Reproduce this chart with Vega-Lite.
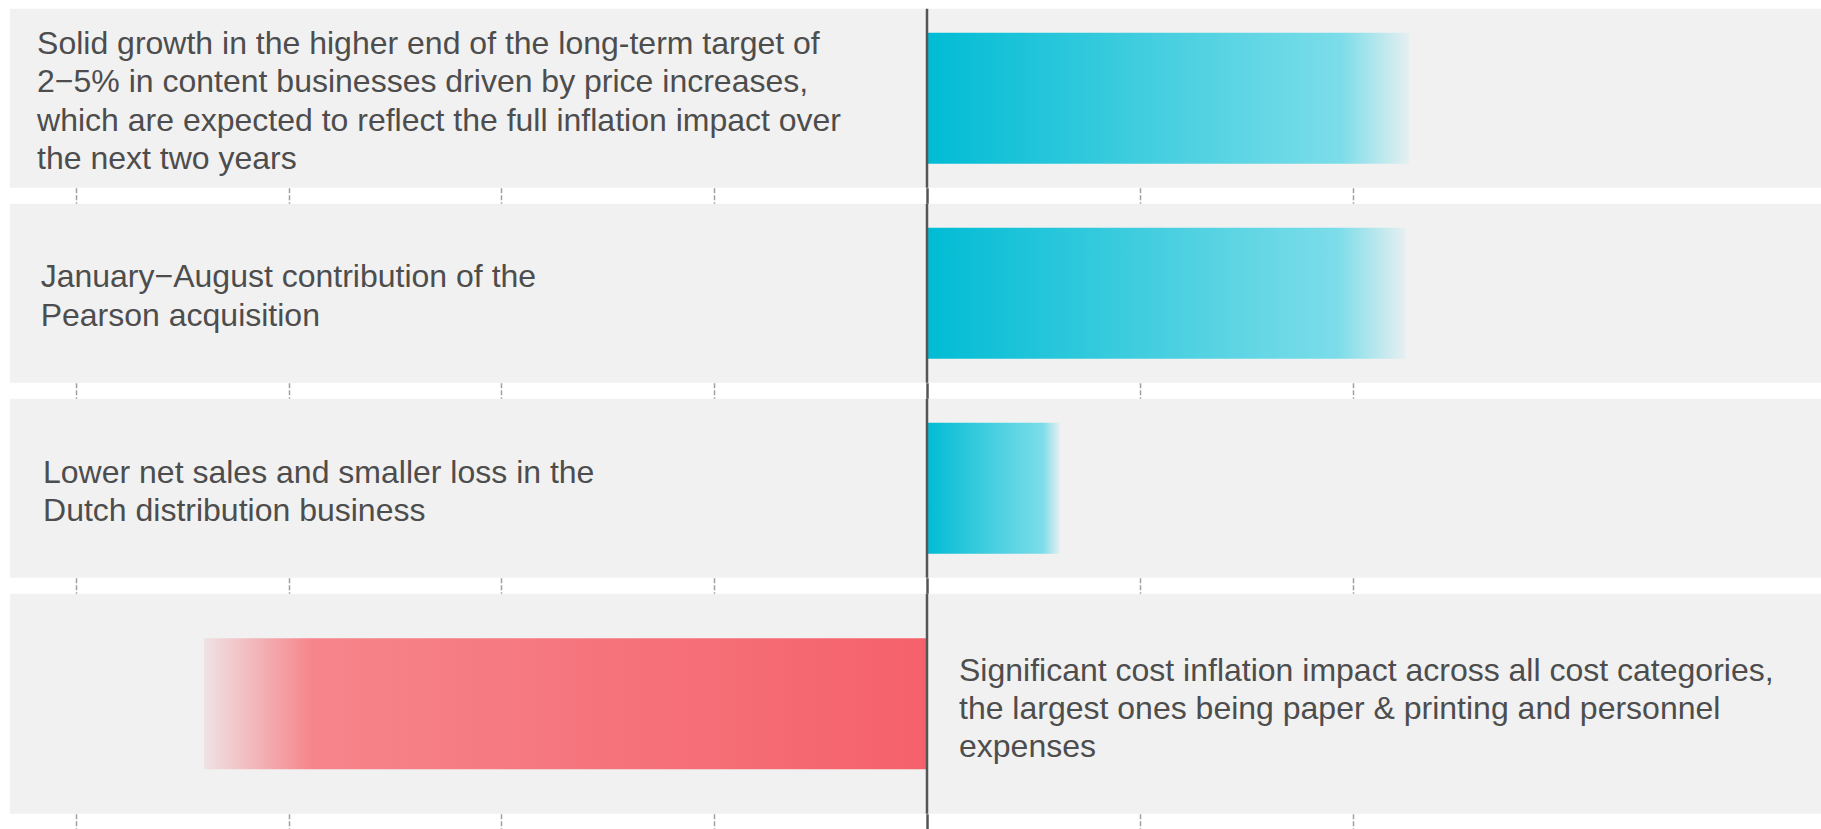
{
  "$schema": "https://vega.github.io/schema/vega-lite/v6.json",
  "background": "white",
  "padding": {"left": 10, "top": 6.75, "right": 0, "bottom": 0},
  "config": {
    "view": {"fill": "#f1f1f1", "stroke": null},
    "text": {"font": "Liberation Sans", "fontSize": 32, "lineHeight": 38.4, "color": "#4d4d4d", "align": "left", "baseline": "middle", "lineBreak": "\n"},
    "rule": {"color": "#555555", "strokeWidth": 2.5}
  },
  "data": {
    "values": [
      {"row": 1, "label": "Solid growth in the higher end of the long-term target of\n2−5% in content businesses driven by price increases,\nwhich are expected to reflect the full inflation impact over\nthe next two years", "value": 2.266},
      {"row": 2, "label": "January−August contribution of the\nPearson acquisition", "value": 2.248},
      {"row": 3, "label": "Lower net sales and smaller loss in the\nDutch distribution business", "value": 0.625},
      {"row": 4, "label": "Significant cost inflation impact across all cost categories,\nthe largest ones being paper & printing and personnel\nexpenses", "value": -3.398}
    ]
  },
  "spacing": 16,
  "bounds": "flush",
  "vconcat": [
    {
      "width": 1811, "height": 179,
      "transform": [{"filter": "datum.row === 1"}],
      "layer": [
        {"mark": {"type": "bar", "size": 131, "color": {"gradient": "linear", "x1": 0, "y1": 0, "x2": 1, "y2": 0, "stops": [{"offset": 0, "color": "#00bcd4"}, {"offset": 0.86, "color": "#7cdde9"}, {"offset": 1, "color": "#e6eff1"}]}},
         "encoding": {"y": {"field": "row", "type": "nominal", "axis": null, "scale": {"padding": 0}},
           "x": {"field": "value", "type": "quantitative", "scale": {"domain": [-4.3102, 4.2021], "nice": false, "zero": false},
             "axis": {"values": [-4, -3, -2, -1, 0, 1, 2], "labels": false, "domain": false, "grid": false, "ticks": true, "tickSize": 17, "title": null,
               "tickColor": {"condition": {"test": "datum.value === 0", "value": "#555555"}, "value": "#a0a0a0"},
               "tickWidth": {"condition": {"test": "datum.value === 0", "value": 2.5}, "value": 1.5},
               "tickDash": {"condition": {"test": "datum.value === 0", "value": []}, "value": [5, 2]}}},
           "x2": {"datum": 0}}},
        {"mark": {"type": "rule"}, "encoding": {"x": {"datum": 0}}},
        {"mark": {"type": "text", "dy": -54.4}, "encoding": {"x": {"datum": -4.183}, "text": {"field": "label"}}}
      ]
    },
    {
      "width": 1811, "height": 179,
      "transform": [{"filter": "datum.row === 2"}],
      "layer": [
        {"mark": {"type": "bar", "size": 131, "color": {"gradient": "linear", "x1": 0, "y1": 0, "x2": 1, "y2": 0, "stops": [{"offset": 0, "color": "#00bcd4"}, {"offset": 0.86, "color": "#7cdde9"}, {"offset": 1, "color": "#e6eff1"}]}},
         "encoding": {"y": {"field": "row", "type": "nominal", "axis": null, "scale": {"padding": 0}},
           "x": {"field": "value", "type": "quantitative", "scale": {"domain": [-4.3102, 4.2021], "nice": false, "zero": false},
             "axis": {"values": [-4, -3, -2, -1, 0, 1, 2], "labels": false, "domain": false, "grid": false, "ticks": true, "tickSize": 17, "title": null,
               "tickColor": {"condition": {"test": "datum.value === 0", "value": "#555555"}, "value": "#a0a0a0"},
               "tickWidth": {"condition": {"test": "datum.value === 0", "value": 2.5}, "value": 1.5},
               "tickDash": {"condition": {"test": "datum.value === 0", "value": []}, "value": [5, 2]}}},
           "x2": {"datum": 0}}},
        {"mark": {"type": "rule"}, "encoding": {"x": {"datum": 0}}},
        {"mark": {"type": "text", "dy": -15.9}, "encoding": {"x": {"datum": -4.166}, "text": {"field": "label"}}}
      ]
    },
    {
      "width": 1811, "height": 179,
      "transform": [{"filter": "datum.row === 3"}],
      "layer": [
        {"mark": {"type": "bar", "size": 131, "color": {"gradient": "linear", "x1": 0, "y1": 0, "x2": 1, "y2": 0, "stops": [{"offset": 0, "color": "#00bcd4"}, {"offset": 0.87, "color": "#7cdde9"}, {"offset": 1, "color": "#e6eff1"}]}},
         "encoding": {"y": {"field": "row", "type": "nominal", "axis": null, "scale": {"padding": 0}},
           "x": {"field": "value", "type": "quantitative", "scale": {"domain": [-4.3102, 4.2021], "nice": false, "zero": false},
             "axis": {"values": [-4, -3, -2, -1, 0, 1, 2], "labels": false, "domain": false, "grid": false, "ticks": true, "tickSize": 17, "title": null,
               "tickColor": {"condition": {"test": "datum.value === 0", "value": "#555555"}, "value": "#a0a0a0"},
               "tickWidth": {"condition": {"test": "datum.value === 0", "value": 2.5}, "value": 1.5},
               "tickDash": {"condition": {"test": "datum.value === 0", "value": []}, "value": [5, 2]}}},
           "x2": {"datum": 0}}},
        {"mark": {"type": "rule"}, "encoding": {"x": {"datum": 0}}},
        {"mark": {"type": "text", "dy": -15.7}, "encoding": {"x": {"datum": -4.155}, "text": {"field": "label"}}}
      ]
    },
    {
      "width": 1811, "height": 220,
      "transform": [{"filter": "datum.row === 4"}],
      "layer": [
        {"mark": {"type": "bar", "size": 131, "color": {"gradient": "linear", "x1": 0, "y1": 0, "x2": 1, "y2": 0, "stops": [{"offset": 0, "color": "#efe2e4"}, {"offset": 0.15, "color": "#f6858b"}, {"offset": 1, "color": "#f5616b"}]}},
         "encoding": {"y": {"field": "row", "type": "nominal", "axis": null, "scale": {"padding": 0}},
           "x": {"field": "value", "type": "quantitative", "scale": {"domain": [-4.3102, 4.2021], "nice": false, "zero": false},
             "axis": {"values": [-4, -3, -2, -1, 0, 1, 2], "labels": false, "domain": false, "grid": false, "ticks": true, "tickSize": 17, "title": null,
               "tickColor": {"condition": {"test": "datum.value === 0", "value": "#555555"}, "value": "#a0a0a0"},
               "tickWidth": {"condition": {"test": "datum.value === 0", "value": 2.5}, "value": 1.5},
               "tickDash": {"condition": {"test": "datum.value === 0", "value": []}, "value": [5, 2]}}},
           "x2": {"datum": 0}}},
        {"mark": {"type": "rule"}, "encoding": {"x": {"datum": 0}}},
        {"mark": {"type": "text", "dx": 32, "dy": -33.2}, "encoding": {"x": {"datum": 0}, "text": {"field": "label"}}}
      ]
    }
  ]
}
